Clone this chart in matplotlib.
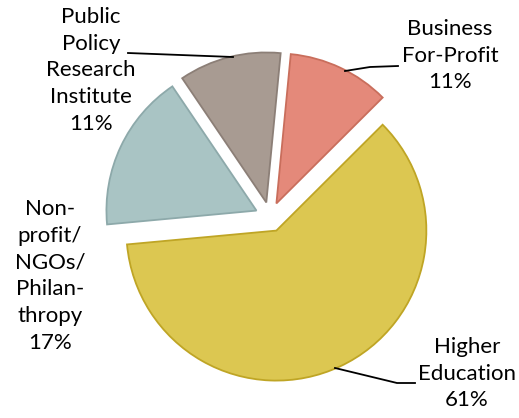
import matplotlib.pyplot as plt

labels = ["Business\nFor-Profit\n11%", "Higher\nEducation\n61%",
          "Non-\nprofit/\nNGOs/\nPhilan-\nthropy\n17%",
          "Public\nPolicy\nResearch\nInstitute\n11%"]
shares = [11, 61, 17, 11]
colors = ["#E4897A", "#DCC751", "#A9C4C4", "#A89B92"]
edges = ["#C96E5C", "#BFA525", "#8DA9AA", "#8C7F77"]

W, H = 519, 418
fig = plt.figure(figsize=(W / 100, H / 100), dpi=100)
ax = fig.add_axes([0, 0, 1, 1])

cx, cy, r = 270, H - 217, 150
# explode is in data units here (pixels)
wedges, _ = ax.pie(shares, startangle=84.5, counterclock=False,
                   colors=colors, explode=[15] * 4, radius=r,
                   center=(cx, cy),
                   wedgeprops=dict(linewidth=1.3))
for w, ec in zip(wedges, edges):
    w.set_edgecolor(ec)

ax.set_xlim(0, W)
ax.set_ylim(0, H)
ax.set_aspect("equal")
ax.axis("off")

font = dict(family=["Lato", "DejaVu Sans"], fontsize=16, ha="center",
            va="top", linespacing=1.42, color="black")

ax.text(450, H - 19, labels[0], **font)
ax.text(467, H - 337, labels[1], **font)
ax.text(50, H - 199, labels[2], **font)
ax.text(91, H - 7, labels[3], **font)

line = dict(color="black", lw=1.3)
ax.plot([345, 370, 398], [H - 71, H - 67, H - 66], **line)
ax.plot([335, 397, 415], [H - 368, H - 383, H - 383], **line)
ax.plot([128, 233], [H - 53, H - 57], **line)

fig.savefig("out.png", dpi=100)
